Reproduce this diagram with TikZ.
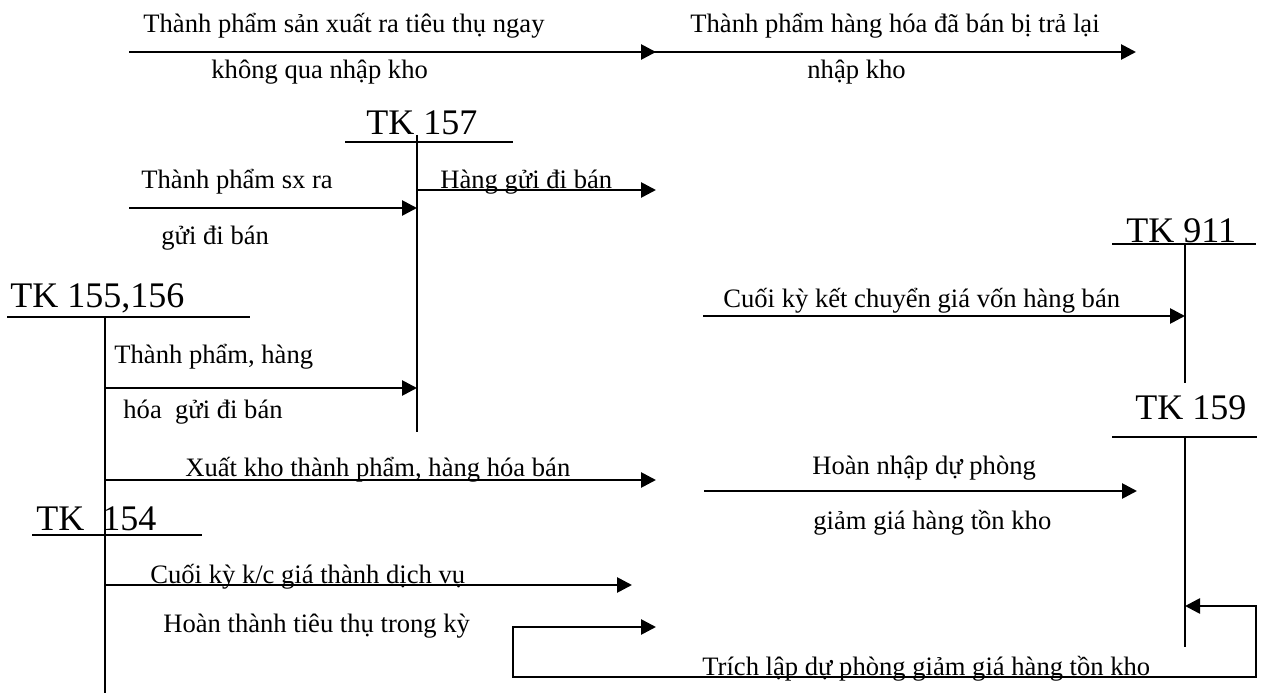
\documentclass[tikz,border=0pt]{standalone}
\usepackage{fontspec}
\setmainfont{Liberation Serif}
\usetikzlibrary{arrows.meta}
\begin{document}
\begin{tikzpicture}[x=0.5pt,y=-0.5pt,
  flow/.style={line width=1.35pt,-{Triangle[length=7.5pt,width=7.5pt]}},
  loopflow/.style={line width=1.35pt,{Triangle[length=7.5pt,width=7.5pt]}-{Triangle[length=7.5pt,width=7.5pt]}},
  tline/.style={line width=0.85pt},
  lbl/.style={anchor=base west,inner sep=0pt,font=\fontsize{13.3}{15}\selectfont},
  acct/.style={anchor=base west,inner sep=0pt,font=\fontsize{18}{20}\selectfont}]
\useasboundingbox (0,0) rectangle (1270,695);

% ---- T-accounts: title, horizontal bar, vertical axis ----
\node[acct] (h157) at (366,135) {TK 157};
\coordinate (b157l) at (345,142);  \coordinate (b157r) at (513,142);
\coordinate (v157t) at (417,135);  \coordinate (v157b) at (417,432);
\draw[tline] (b157l) -- (b157r);
\draw[tline] (v157t) -- (v157b);

\node[acct] (h911) at (1126,243) {TK 911};
\coordinate (b911l) at (1112,244); \coordinate (b911r) at (1256,244);
\coordinate (v911t) at (1185,244); \coordinate (v911b) at (1185,383);
\draw[tline] (b911l) -- (b911r);
\draw[tline] (v911t) -- (v911b);

\node[acct] (h155) at (10,308) {TK 155,156};
\coordinate (b155l) at (7,317);    \coordinate (b155r) at (250,317);
\coordinate (v155t) at (105,317);  \coordinate (v155b) at (105,693);
\draw[tline] (b155l) -- (b155r);
\draw[tline] (v155t) -- (v155b);

\node[acct] (h159) at (1135,420) {TK 159};
\coordinate (b159l) at (1112,437); \coordinate (b159r) at (1257,437);
\coordinate (v159t) at (1185,437); \coordinate (v159b) at (1185,647);
\draw[tline] (b159l) -- (b159r);
\draw[tline] (v159t) -- (v159b);

\node[acct] (h154) at (36,530) {TK\ \ 154};
\coordinate (b154l) at (32,535);   \coordinate (b154r) at (202,535);
\draw[tline] (b154l) -- (b154r);

% ---- flows ----
\coordinate (a1s) at (129,52);   \coordinate (a1e) at (656,52);
\coordinate (a2s) at (635,52);   \coordinate (a2e) at (1136,52);
\coordinate (a3s) at (129,208);  \coordinate (a3e) at (v157t |- a3s);
\coordinate (a4s) at (v157t |- 0,190); \coordinate (a4e) at (656,190);
\coordinate (a5s) at (703,316);  \coordinate (a5e) at (v911t |- a5s);
\coordinate (a6s) at (v155t |- 0,388); \coordinate (a6e) at (v157t |- a6s);
\coordinate (a7s) at (v155t |- 0,480); \coordinate (a7e) at (656,480);
\coordinate (a8s) at (704,491);  \coordinate (a8e) at (1137,491);
\coordinate (a9s) at (v155t |- 0,585); \coordinate (a9e) at (632,585);
\coordinate (lpe) at (v159t |- 0,606); \coordinate (lpr) at (1256,606);
\coordinate (lpbr) at (1256,677); \coordinate (lpbl) at (513,677);
\coordinate (lps) at (513,627);  \coordinate (lpt) at (656,627);

\draw[flow] (a1s) -- (a1e);
\draw[flow] (a2s) -- (a2e);
\draw[flow] (a3s) -- (a3e);
\draw[flow] (a4s) -- (a4e);
\draw[flow] (a5s) -- (a5e);
\draw[flow] (a6s) -- (a6e);
\draw[flow] (a7s) -- (a7e);
\draw[flow] (a8s) -- (a8e);
\draw[flow] (a9s) -- (a9e);
\draw[loopflow] (lpe) -- (lpr) -- (lpbr) -- (lpbl) -- (lps) -- (lpt);

% ---- labels ----
\node[lbl] (t1)  at (143,33)  {Thành phẩm sản xuất ra tiêu thụ ngay};
\node[lbl] (t2)  at (211,79)  {không qua nhập kho};
\node[lbl] (t3)  at (690,33)  {Thành phẩm hàng hóa đã bán bị trả lại};
\node[lbl] (t4)  at (807,79)  {nhập kho};
\node[lbl] (t5)  at (141,189) {Thành phẩm sx ra};
\node[lbl] (t6)  at (161,245) {gửi đi bán};
\node[lbl] (t7)  at (440,189) {Hàng gửi đi bán};
\node[lbl] (t8)  at (723,308) {Cuối kỳ kết chuyển giá vốn hàng bán};
\node[lbl] (t9)  at (114,364) {Thành phẩm, hàng};
\node[lbl] (t10) at (123,419) {hóa\ \ gửi đi bán};
\node[lbl] (t11) at (185,476) {Xuất kho thành phẩm, hàng hóa bán};
\node[lbl] (t12) at (812,474) {Hoàn nhập dự phòng};
\node[lbl] (t13) at (813,529) {giảm giá hàng tồn kho};
\node[lbl] (t14) at (150,583) {Cuối kỳ k/c giá thành dịch vụ};
\node[lbl] (t15) at (163,632) {Hoàn thành tiêu thụ trong kỳ};
\node[lbl] (t16) at (702,675) {Trích lập dự phòng giảm giá hàng tồn kho};
\end{tikzpicture}
\end{document}
